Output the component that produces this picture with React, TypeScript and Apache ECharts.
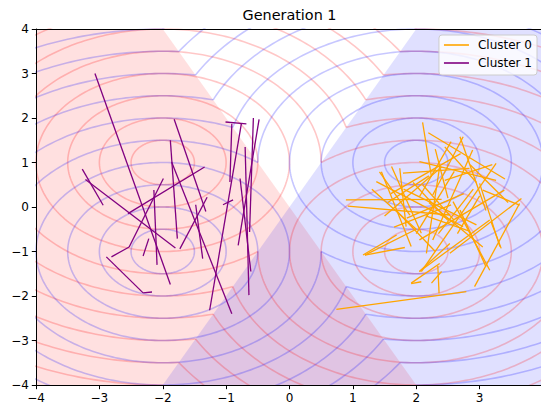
import React, { useEffect, useRef } from 'react';
import * as echarts from 'echarts';

// Axis extents
const xRange = [-4, 4];
const yRange = [-4, 4];

// Component means of each class (isotropic, unit spread)
const redCenters = [[-2, 1], [2, -1]];
const blueCenters = [[-2, -1], [2, 1]];
// Contour radii drawn around the means
const contourLevels = [0.5, 1, 1.5, 2, 2.5, 3, 3.5, 4, 4.5, 5];

// Shaded decision regions (corner points in data space)
const redRegion = [[-4, 4], [-2, 4], [2, -4], [-4, -4]];
const blueRegion = [[2, 4], [4, 4], [4, -4], [-2, -4]];

// Cluster 0 segments: [x1, y1, x2, y2]
const cluster0Segments = [
  [2.1, 1.9, 2.24, 0.68],
  [2.19, 1.67, 3.4, 0.63],
  [2.69, 1.58, 3.1, -0.08],
  [2.55, 1.47, 2.05, 0.23],
  [2.89, 1.28, 2.26, -0.74],
  [3.26, 0.98, 2.08, -1.45],
  [2.05, 1.02, 3.26, 0.6],
  [1.79, 0.76, 2.84, 0.87],
  [1.45, 0.79, 1.92, -0.89],
  [1.61, 0.91, 2.08, -0.59],
  [1.74, 0.87, 1.84, -0.44],
  [0.89, 0.16, 2.4, 0.17],
  [0.92, 0.02, 2.53, -0.18],
  [1.37, 0.57, 2.74, -0.44],
  [3.66, 0.19, 2.53, -1.04],
  [3.63, 0.04, 3.05, 0.38],
  [1.19, -1.08, 1.82, -0.91],
  [1.19, -1.08, 2.0, -0.5],
  [2.05, -1.45, 2.53, -0.82],
  [1.92, -1.72, 2.08, -1.68],
  [2.34, -1.32, 2.36, -1.94],
  [2.24, -1.71, 2.4, -1.45],
  [2.92, -1.79, 3.63, 0.08],
  [3.1, -1.34, 2.69, -0.07],
  [3.32, -0.89, 3.0, 0.53],
  [0.74, -2.3, 2.79, -1.9],
  [3.18, -0.33, 3.34, -0.93],
  [2.58, 0.12, 3.16, -1.42],
  [3.39, 0.38, 2.05, -0.74],
  [2.74, 1.58, 2.26, 0.27],
  [1.92, -1.71, 2.37, -1.27],
  [2.05, -1.45, 3.16, -0.29],
  [2.37, 0.91, 2.16, -1.04],
  [1.6, 0.3, 2.7, 1.2],
  [1.5, -0.2, 2.4, 0.9],
  [1.8, 0.4, 2.95, -0.4],
  [2.0, -0.6, 2.6, 0.8],
  [2.85, 0.95, 3.45, 0.1],
  [1.7, -0.1, 2.3, -1.0],
  [2.45, 0.6, 3.2, 0.95],
  [2.2, 0.1, 3.05, -0.9],
  [1.55, 0.1, 2.2, 0.7],
  [2.6, -0.3, 2.1, 0.5],
  [2.9, 0.4, 2.35, -0.6],
  [1.85, -0.25, 2.75, 0.3],
  [2.3, 1.3, 2.5, 0.2],
  [1.3, 0.4, 2.0, -0.5],
  [2.65, -0.6, 3.0, 0.25],
  [1.95, 0.55, 2.5, -0.3],
  [2.15, -0.2, 2.85, -0.55],
  [1.42, 0.79, 1.9, -0.18],
  [1.16, -1.08, 1.69, -0.63],
  [2.45, 1.35, 2.95, 0.55],
  [1.65, -0.45, 2.55, 0.05],
];

// Cluster 1 segments: [x1, y1, x2, y2]
const cluster1Segments = [
  [-3.07, 3.0, -1.88, -1.74],
  [-3.27, 0.85, -2.94, 0.04],
  [-3.22, 0.62, -1.8, -0.92],
  [-2.89, -1.12, -2.31, -1.93],
  [-2.31, -1.93, -2.17, -1.91],
  [-2.81, -1.12, -2.53, -0.9],
  [-2.53, -0.9, -1.99, 0.64],
  [-2.55, -0.15, -1.34, 0.9],
  [-2.14, 0.38, -2.09, -1.3],
  [-2.22, -0.71, -2.31, -1.1],
  [-1.88, 1.5, -1.77, -0.71],
  [-1.86, 1.01, -0.91, -2.4],
  [-1.82, 1.97, -1.32, -0.1],
  [-1.48, 0.05, -1.37, -1.16],
  [-1.73, -0.94, -1.3, 0.22],
  [-1.26, -2.32, -0.76, 1.87],
  [-1.01, 1.91, -0.68, 1.87],
  [-0.91, 1.87, -0.94, 0.56],
  [-1.05, 0.05, -0.89, 0.16],
  [-0.81, -0.86, -0.48, 1.97],
  [-0.7, 1.35, -0.64, -1.98],
  [-0.78, 0.64, -0.61, -1.45],
  [-0.57, 2.0, -0.63, -0.56],
];

const FONT = 'DejaVu Sans';

// Boundary of the union of equal-radius discs around each mean
function contourArcs(centers: number[][], levels: number[]) {
  const arcs: number[][][] = [];
  levels.forEach((r) => {
    centers.forEach((c, i) => {
      const o = centers[1 - i];
      const dx = c[0] - o[0];
      const dy = c[1] - o[1];
      const dist = Math.hypot(dx, dy);
      const phi = Math.atan2(dy, dx);
      const half = r <= dist / 2 ? Math.PI : Math.acos(-dist / (2 * r));
      const steps = 240;
      const pts: number[][] = [];
      for (let k = 0; k <= steps; k++) {
        const t = phi - half + (2 * half * k) / steps;
        pts.push([c[0] + r * Math.cos(t), c[1] + r * Math.sin(t)]);
      }
      arcs.push(pts);
    });
  });
  return arcs;
}

function regionSeries(region: number[][], fill: string) {
  return {
    type: 'custom',
    silent: true,
    clip: true,
    z: 1,
    data: [[0, 0]],
    renderItem: (_params: any, api: any) => ({
      type: 'polygon',
      shape: { points: region.map((p) => api.coord(p)) },
      style: { fill },
    }),
  };
}

function contourSeries(centers: number[][], color: string) {
  return {
    type: 'lines',
    coordinateSystem: 'cartesian2d',
    polyline: true,
    silent: true,
    clip: true,
    z: 2,
    lineStyle: { color, width: 1.6, opacity: 1 },
    data: contourArcs(centers, contourLevels).map((coords) => ({ coords })),
  };
}

function segmentSeries(name: string, segs: number[][], color: string) {
  return {
    name,
    type: 'lines',
    coordinateSystem: 'cartesian2d',
    silent: true,
    clip: true,
    z: 3,
    itemStyle: { color },
    lineStyle: { color, width: 1.3, opacity: 1 },
    data: segs.map((s) => ({ coords: [[s[0], s[1]], [s[2], s[3]]] })),
  };
}

const fmt = (v: number) => (v < 0 ? '\u2212' + Math.abs(v) : String(v));

export default function App() {
  const ref = useRef<HTMLDivElement>(null);

  useEffect(() => {
    if (!ref.current) return;
    const chart = echarts.init(ref.current, undefined, { renderer: 'svg' });
    const axisCommon = {
      type: 'value',
      interval: 1,
      z: 10,
      splitLine: { show: false },
      axisLine: { show: true, onZero: false, lineStyle: { color: '#000', width: 1 } },
    };
    chart.setOption({
      animation: false,
      backgroundColor: '#fff',
      title: {
        text: 'Generation 1',
        left: 289.5,
        textAlign: 'center',
        top: 8,
        padding: 0,
        textStyle: { fontFamily: FONT, fontSize: 14.4, fontWeight: 'normal', color: '#000' },
      },
      grid: { left: 36, top: 29, width: 507, height: 356, outerBoundsMode: 'none', containLabel: false },
      legend: {
        orient: 'vertical',
        right: 4,
        top: 35,
        padding: [4, 5, 6, 5],
        itemWidth: 25,
        itemHeight: 1.6,
        itemGap: 6,
        backgroundColor: 'rgba(255,255,255,0.8)',
        borderColor: '#cccccc',
        borderWidth: 1,
        borderRadius: 3,
        textStyle: { fontFamily: FONT, fontSize: 12, color: '#000', padding: [0, 0, 0, 4] },
        data: [
          { name: 'Cluster 0', icon: 'rect', itemStyle: { color: '#ffa500', borderWidth: 0 } },
          { name: 'Cluster 1', icon: 'rect', itemStyle: { color: '#800080', borderWidth: 0 } },
        ],
      },
      xAxis: [
        {
          ...axisCommon,
          min: xRange[0],
          max: xRange[1],
          position: 'bottom',
          axisTick: { show: true, inside: false, length: 4.2, lineStyle: { color: '#000', width: 1 } },
          axisLabel: {
            fontFamily: FONT,
            fontSize: 12,
            color: '#000',
            margin: 7,
            showMaxLabel: false,
            formatter: fmt,
          },
        },
        {
          ...axisCommon,
          min: xRange[0],
          max: xRange[1],
          position: 'top',
          axisTick: { show: false },
          axisLabel: { show: false },
        },
      ],
      yAxis: [
        {
          ...axisCommon,
          min: yRange[0],
          max: yRange[1],
          position: 'left',
          axisTick: { show: true, inside: false, length: 4.2, lineStyle: { color: '#000', width: 1 } },
          axisLabel: { fontFamily: FONT, fontSize: 12, color: '#000', margin: 7, formatter: fmt },
        },
        {
          ...axisCommon,
          min: yRange[0],
          max: yRange[1],
          position: 'right',
          axisTick: { show: false },
          axisLabel: { show: false },
        },
      ],
      series: [
        regionSeries(redRegion, 'rgba(255,0,0,0.12)'),
        regionSeries(blueRegion, 'rgba(0,0,255,0.12)'),
        contourSeries(redCenters, 'rgba(255,0,0,0.22)'),
        contourSeries(blueCenters, 'rgba(0,0,255,0.22)'),
        segmentSeries('Cluster 0', cluster0Segments, '#ffa500'),
        segmentSeries('Cluster 1', cluster1Segments, '#800080'),
      ],
    });
    return () => chart.dispose();
  }, []);

  return (
    <div
      ref={ref}
      style={{ position: 'fixed', left: 0, top: 0, width: 541, height: 406, background: '#fff' }}
    />
  );
}
